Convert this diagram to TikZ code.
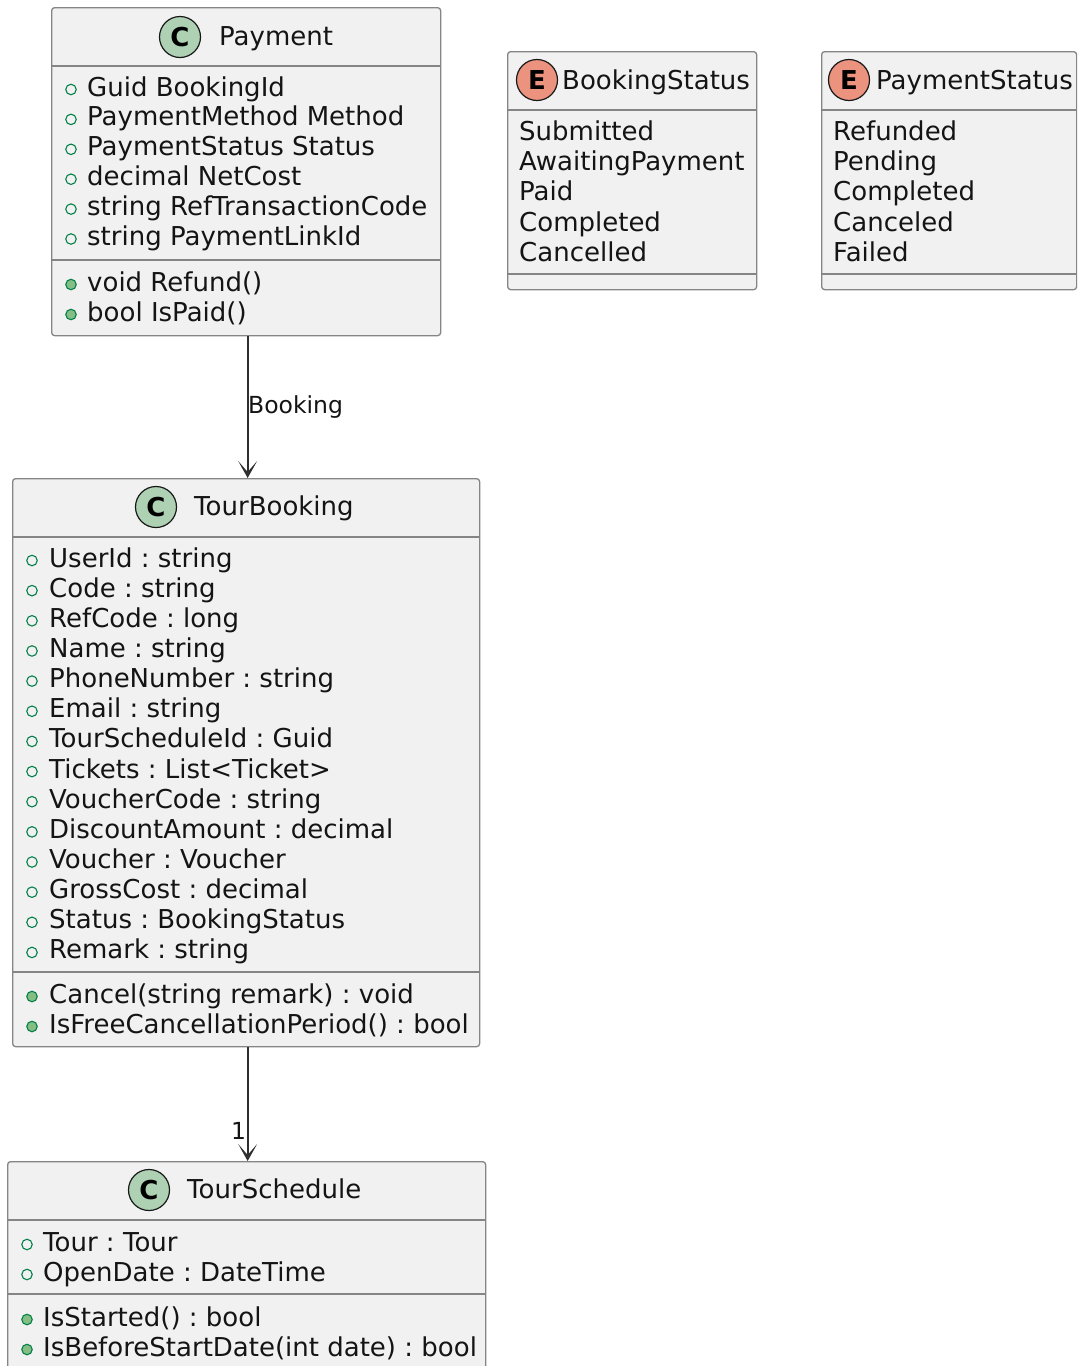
\documentclass[tikz,border=0pt]{standalone}
\usepackage{fontspec}
\setmainfont{DejaVu Sans}
\usetikzlibrary{arrows.meta}
\definecolor{boxfill}{HTML}{F1F1F1}
\definecolor{boxline}{HTML}{858585}
\definecolor{ink}{HTML}{181818}
\definecolor{textink}{HTML}{141414}
\definecolor{classgreen}{HTML}{ADD1B2}
\definecolor{enumred}{HTML}{EB937F}
\definecolor{dotline}{HTML}{038048}
\definecolor{dotfill}{HTML}{84BE84}

\tikzset{
  umlbox/.style={draw=boxline, fill=boxfill, line width=1.3pt, rounded corners=3pt,
    rectangle, inner sep=0pt, anchor=north west},
  sepline/.style={draw=boxline, line width=1.3pt},
  member/.style={anchor=base west, inner sep=0pt, text=textink,
    font=\fontsize{26}{30}\selectfont\frenchspacing},
  title/.style={member},
  attrdot/.style={circle, draw=dotline, line width=1.1pt, minimum size=10.5pt, inner sep=0pt},
  methdot/.style={circle, draw=dotline, fill=dotfill, line width=1.1pt, minimum size=10.5pt, inner sep=0pt},
  badge/.style={circle, draw=ink, line width=1.2pt, minimum size=41pt, inner sep=0pt,
    font=\fontsize{26}{26}\selectfont\bfseries},
  classbadge/.style={badge, fill=classgreen},
  enumbadge/.style={badge, fill=enumred},
  assoc/.style={draw=ink!90, line width=1.8pt, -{Stealth[length=17pt,width=19pt,inset=11pt]}},
  edgelabel/.style={anchor=base west, inner sep=0pt, text=textink,
    font=\fontsize{23.5}{28}\selectfont},
}

% one compartment of members: prefix, dot style, dot x, text x, first baseline, step, items
\newcommand\memberrows[7]{%
  \foreach \txt [count=\i from 0] in {#7} {
    \node[#2] (#1d\i) at ({#3},{#5+\i*#6-6.5}) {};
    \node[member] (#1t\i) at ({#4},{#5+\i*#6}) {\txt};
  }}
% enum literals: prefix, text x, first baseline, step, items
\newcommand\literalrows[5]{%
  \foreach \txt [count=\i from 0] in {#5} {
    \node[member] (#1\i) at ({#2},{#3+\i*#4}) {\txt};
  }}

\begin{document}
\begin{tikzpicture}[x=1pt, y=-1pt]
\useasboundingbox (0,0) rectangle (1077,1366);
\clip (0,0) rectangle (1077,1366);

% ---------- Payment ----------
\node[umlbox, minimum width=389pt, minimum height=328pt] (payment) at (51,7) {};
\draw[sepline] (51,66) -- (440,66);
\draw[sepline] (51,260) -- (440,260);
\node[classbadge] (paymentbadge) at (180,37) {C};
\node[title] (paymenttitle) at (219,45) {Payment};
\memberrows{pa}{attrdot}{71}{87}{96}{29.9}{Guid BookingId, PaymentMethod Method, PaymentStatus Status, decimal NetCost, string RefTransactionCode, string PaymentLinkId}
\memberrows{pm}{methdot}{71}{87}{291}{30}{void Refund(), bool IsPaid()}

% ---------- BookingStatus ----------
\node[umlbox, minimum width=249pt, minimum height=238pt] (bookingstatus) at (507,51) {};
\draw[sepline] (507,110) -- (756,110);
\draw[sepline] (507,274) -- (756,274);
\node[enumbadge] (bookingstatusbadge) at (537,80) {E};
\node[title] (bookingstatustitle) at (562,89) {BookingStatus};
\literalrows{bs}{519}{140}{30.4}{Submitted, AwaitingPayment, Paid, Completed, Cancelled}

% ---------- PaymentStatus ----------
\node[umlbox, minimum width=255pt, minimum height=238pt] (paymentstatus) at (821,51) {};
\draw[sepline] (821,110) -- (1076,110);
\draw[sepline] (821,274) -- (1076,274);
\node[enumbadge] (paymentstatusbadge) at (849,80) {E};
\node[title] (paymentstatustitle) at (876,89) {PaymentStatus};
\literalrows{ps}{833}{140}{30.4}{Refunded, Pending, Completed, Canceled, Failed}

% ---------- TourBooking ----------
\node[umlbox, minimum width=467pt, minimum height=568pt] (tourbooking) at (12,478) {};
\draw[sepline] (12,537) -- (479,537);
\draw[sepline] (12,972) -- (479,972);
\node[classbadge] (tourbookingbadge) at (156,507) {C};
\node[title] (tourbookingtitle) at (194,515) {TourBooking};
\memberrows{ta}{attrdot}{32}{49}{567}{30.15}{UserId : string, Code : string, RefCode : long, Name : string, PhoneNumber : string, Email : string, TourScheduleId : Guid, Tickets : List<Ticket>, VoucherCode : string, DiscountAmount : decimal, Voucher : Voucher, GrossCost : decimal, Status : BookingStatus, Remark : string}
\memberrows{tm}{methdot}{32}{49}{1003}{30}{Cancel(string remark) : void, IsFreeCancellationPeriod() : bool}

% ---------- TourSchedule ----------
\node[umlbox, minimum width=478pt, minimum height=210pt] (tourschedule) at (7,1161) {};
\draw[sepline] (7,1220) -- (485,1220);
\draw[sepline] (7,1294) -- (485,1294);
\node[classbadge] (tourschedulebadge) at (149,1190) {C};
\node[title] (tourscheduletitle) at (187,1198) {TourSchedule};
\memberrows{sa}{attrdot}{27}{43}{1251}{30}{Tour : Tour, OpenDate : DateTime}
\memberrows{sm}{methdot}{27}{43}{1326}{30}{IsStarted() : bool, IsBeforeStartDate(int date) : bool}

% ---------- associations ----------
\draw[assoc] ([xshift=1.5pt]payment.south) -- ([xshift=1.5pt]tourbooking.north);
\node[edgelabel] (bookinglabel) at (248,413) {Booking};
\draw[assoc] ([xshift=1.5pt]tourbooking.south) -- ([xshift=1pt]tourschedule.north);
\node[edgelabel] (multiplicity) at (231,1139) {1};
\end{tikzpicture}
\end{document}
